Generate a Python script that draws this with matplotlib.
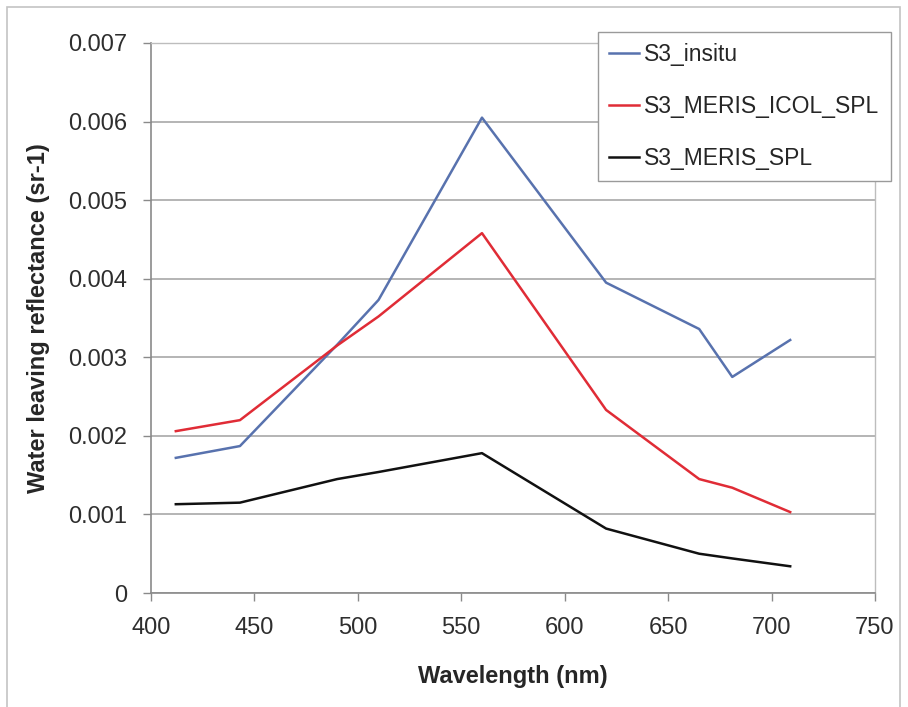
import matplotlib
matplotlib.use("Agg")
import matplotlib.pyplot as plt
from matplotlib.patches import Rectangle

plt.rcParams['font.family'] = ['Liberation Sans', 'DejaVu Sans']

# MERIS band centres (nm)
wavelength = [412, 443, 490, 510, 560, 620, 665, 681, 709]

# Water leaving reflectance (sr-1)
s3_insitu = [0.00172, 0.00187, 0.00316, 0.00373, 0.00605, 0.00395, 0.00336, 0.00275, 0.00322]
s3_meris_icol_spl = [0.00206, 0.00220, 0.00315, 0.00352, 0.00458, 0.00233, 0.00145, 0.00134, 0.00103]
s3_meris_spl = [0.00113, 0.00115, 0.00145, 0.00154, 0.00178, 0.00082, 0.00050, 0.00044, 0.00034]

series_names = ["S3_insitu", "S3_MERIS_ICOL_SPL", "S3_MERIS_SPL"]
series_colors = ["#5872ae", "#e02c36", "#111111"]

x_ticks = [400, 450, 500, 550, 600, 650, 700, 750]
y_ticks = [0, 0.001, 0.002, 0.003, 0.004, 0.005, 0.006, 0.007]
y_tick_labels = ["0", "0.001", "0.002", "0.003", "0.004", "0.005", "0.006", "0.007"]

FS = 17

fig = plt.figure(figsize=(9.08, 7.07), dpi=100)
fig.patch.set_facecolor("white")

# outer chart border
fig.add_artist(Rectangle((7 / 908, -0.01), 893 / 908, 1 - 7 / 707 + 0.01,
                         transform=fig.transFigure, fill=False,
                         edgecolor="#c4c4c4", linewidth=1.2))

ax = fig.add_axes([151 / 908, 1 - 593 / 707, (875 - 151) / 908, (593 - 43) / 707])

for vals, name, col in zip([s3_insitu, s3_meris_icol_spl, s3_meris_spl], series_names, series_colors):
    ax.plot(wavelength, vals, color=col, linewidth=1.8, label=name, zorder=3)

ax.set_xlim(400, 750)
ax.set_ylim(0, 0.007)
ax.set_xticks(x_ticks)
ax.set_xticklabels([str(t) for t in x_ticks])
ax.set_yticks(y_ticks)
ax.set_yticklabels(y_tick_labels)

ax.yaxis.grid(True, color="#a8a8a8", linewidth=1.2)
ax.set_axisbelow(True)

for side in ["top", "right"]:
    ax.spines[side].set_color("#bdbdbd")
    ax.spines[side].set_linewidth(1.0)
for side in ["left", "bottom"]:
    ax.spines[side].set_color("#8a8a8a")
    ax.spines[side].set_linewidth(1.2)

ax.tick_params(axis="both", direction="out", length=6, width=1.0, color="#8a8a8a",
               labelsize=FS, labelcolor="#2e2e2e")
ax.tick_params(axis="y", pad=11)
ax.tick_params(axis="x", pad=11)

ax.set_xlabel("Wavelength (nm)", fontsize=FS, fontweight="bold", color="#262626")
ax.set_ylabel("Water leaving reflectance (sr-1)", fontsize=FS, fontweight="bold", color="#262626")
ax.xaxis.set_label_coords(0.5, -(677 - 593) / 550)
ax.yaxis.set_label_coords(-(151 - 39) / 724, 0.5)
ax.xaxis.label.set_va("center")
ax.yaxis.label.set_va("center")

leg = ax.legend(loc="upper left", bbox_to_anchor=((598 - 151) / 724, (593 - 32) / 550),
                fontsize=16.5, frameon=True, fancybox=False, handlelength=1.3,
                handletextpad=0.2, labelspacing=1.25, borderpad=0.5, borderaxespad=0)
leg.get_frame().set_edgecolor("#9a9a9a")
leg.get_frame().set_linewidth(1.0)
leg.get_frame().set_alpha(1)
leg.set_zorder(5)
for t in leg.get_texts():
    t.set_color("#262626")

fig.savefig("out.png", dpi=100, facecolor="white")
